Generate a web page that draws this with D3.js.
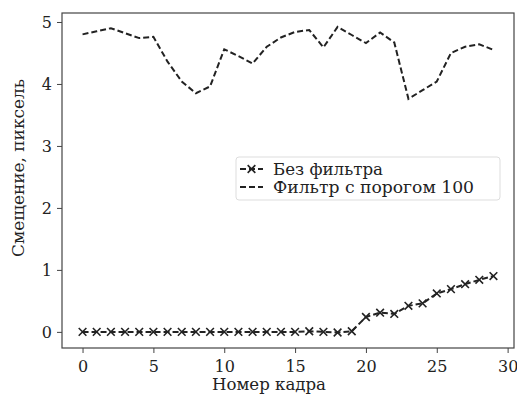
<!DOCTYPE html>
<html>
<head>
<meta charset="utf-8">
<script src="https://cdn.jsdelivr.net/npm/d3@7"></script>
<style>
  body { margin: 0; background: #fff; }
</style>
</head>
<body>
<div id="chart"></div>
<script>
// frame numbers
const frames = d3.range(0, 30);
// "Без фильтра"
const noFilter = [0, 0, 0, 0, 0, 0, 0, 0, 0, 0,
  0, 0, 0, 0, 0, 0, 0.01, 0, -0.01, 0.01,
  0.24, 0.31, 0.29, 0.42, 0.46, 0.62, 0.69, 0.77, 0.84, 0.90];
// "Фильтр с порогом 100"
const filter100 = [4.80, 4.85, 4.90, 4.82, 4.74, 4.76, 4.36, 4.04, 3.85, 3.96,
  4.56, 4.45, 4.33, 4.60, 4.75, 4.84, 4.87, 4.59, 4.92, 4.79,
  4.66, 4.83, 4.67, 3.76, 3.90, 4.04, 4.50, 4.60, 4.64, 4.55];
const xTicks = [0, 5, 10, 15, 20, 25, 30];
const yTicks = [0, 1, 2, 3, 4, 5];
const seriesNames = ["Без фильтра", "Фильтр с порогом 100"];
const legendWidths = [110, 201];

const W = 517, H = 395;
const margin = { left: 62, right: 3, top: 13, bottom: 47 };
// Liberation Serif here has no Cyrillic, so DejaVu Serif squeezed with textLength
const serif = "'DejaVu Serif', serif";

const svg = d3.select("#chart").append("svg")
  .attr("width", W).attr("height", H)
  .attr("font-family", serif);

const x = d3.scaleLinear().domain([-1.45, 30.45])
  .range([margin.left, W - margin.right]);
const y = d3.scaleLinear().domain([-0.26, 5.145])
  .range([H - margin.bottom, margin.top]);

const ink = "#222";
const axisColor = "#444";

// Add X axis
const gx = svg.append("g")
  .attr("transform", "translate(0," + (H - margin.bottom) + ")")
  .call(d3.axisBottom(x).tickValues(xTicks).tickFormat(d3.format("d"))
    .tickSize(5).tickSizeOuter(0));
gx.selectAll("text").attr("y", 24).attr("dy", null);

// Add Y axis
const gy = svg.append("g")
  .attr("transform", "translate(" + margin.left + ",0)")
  .call(d3.axisLeft(y).tickValues(yTicks).tickFormat(d3.format("d"))
    .tickSize(5).tickSizeOuter(0).tickPadding(5));

[gx, gy].forEach(g => {
  g.attr("font-family", serif).attr("font-size", 16);
  g.select(".domain").remove();
  g.selectAll("line").attr("stroke", axisColor).attr("stroke-width", 1);
  g.selectAll("text").attr("fill", ink);
});

// frame around plot area
svg.append("rect")
  .attr("x", margin.left).attr("y", margin.top)
  .attr("width", W - margin.left - margin.right)
  .attr("height", H - margin.top - margin.bottom)
  .attr("fill", "none").attr("stroke", axisColor).attr("stroke-width", 1.2);

const line = d3.line().x((d, i) => x(frames[i])).y(d => y(d));

// filtered series, dashed
svg.append("path")
  .datum(filter100)
  .attr("d", line)
  .attr("fill", "none").attr("stroke", ink)
  .attr("stroke-width", 2).attr("stroke-dasharray", "6,3");

// unfiltered series, dashed with x markers
svg.append("path")
  .datum(noFilter)
  .attr("d", line)
  .attr("fill", "none").attr("stroke", ink)
  .attr("stroke-width", 2).attr("stroke-dasharray", "6,3");

const cross = d3.symbol().type(d3.symbolX).size(40);
svg.selectAll(".mk")
  .data(noFilter)
  .enter()
  .append("path")
  .attr("transform", (d, i) => "translate(" + x(frames[i]) + "," + y(d) + ")")
  .attr("d", cross)
  .attr("stroke", ink).attr("stroke-width", 1.6).attr("fill", "none");

// legend
const lg = svg.append("g").attr("transform", "translate(236,157)");
lg.append("rect")
  .attr("width", 264).attr("height", 43).attr("rx", 3)
  .attr("fill", "#fff").attr("fill-opacity", 0.8)
  .attr("stroke", "#ddd").attr("stroke-width", 1);
seriesNames.forEach((name, k) => {
  const cy = 12 + k * 18;
  lg.append("line")
    .attr("x1", 4).attr("x2", 27).attr("y1", cy).attr("y2", cy)
    .attr("stroke", ink).attr("stroke-width", 2).attr("stroke-dasharray", "6,3");
  if (k === 0) {
    lg.append("path")
      .attr("transform", "translate(15.5," + cy + ")")
      .attr("d", cross)
      .attr("stroke", ink).attr("stroke-width", 1.6).attr("fill", "none");
  }
  lg.append("text")
    .attr("x", 37).attr("y", cy + 6)
    .attr("font-size", 16).attr("fill", ink)
    .attr("textLength", legendWidths[k]).attr("lengthAdjust", "spacingAndGlyphs")
    .text(name);
});

// axis labels
svg.append("text")
  .attr("x", 269).attr("y", 390)
  .attr("text-anchor", "middle")
  .attr("font-size", 16).attr("fill", ink)
  .attr("textLength", 114).attr("lengthAdjust", "spacingAndGlyphs")
  .text("Номер кадра");

svg.append("text")
  .attr("transform", "translate(24,168) rotate(-90)")
  .attr("text-anchor", "middle")
  .attr("font-size", 16).attr("fill", ink)
  .attr("textLength", 178).attr("lengthAdjust", "spacingAndGlyphs")
  .text("Смещение, пиксель");
</script>
</body>
</html>
